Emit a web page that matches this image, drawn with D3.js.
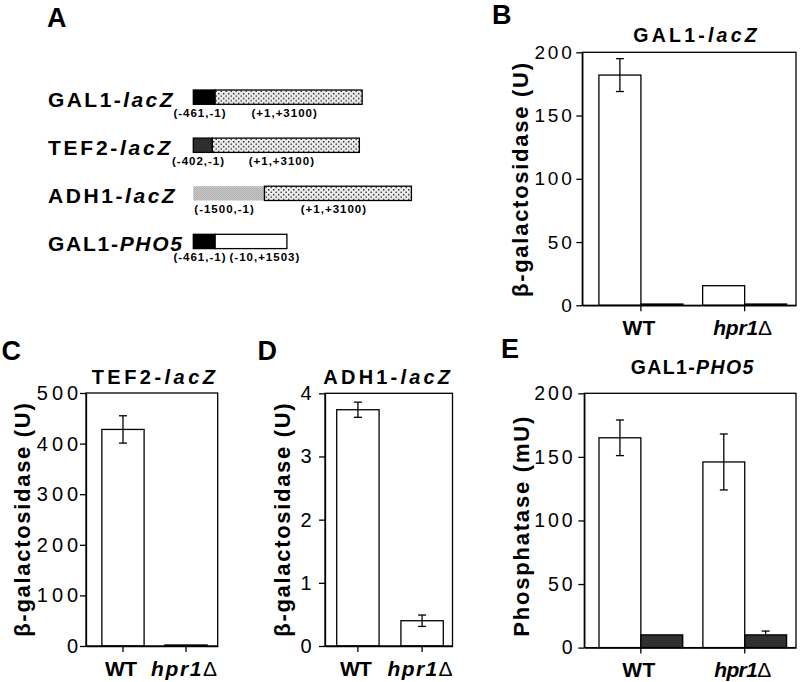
<!DOCTYPE html>
<html><head><meta charset="utf-8">
<script src="https://cdn.jsdelivr.net/npm/d3@7/dist/d3.min.js"></script>
<style>
body{margin:0;background:#fff}
svg{display:block}
text{font-family:"Liberation Sans", Arial, Helvetica, sans-serif;fill:#000}
</style>
</head><body>
<svg id="fig" width="800" height="682"></svg>
<script>
// ---------- Panel A: constructs ----------
const promoterNames = ["GAL1", "TEF2", "ADH1", "GAL1"];
const reporterNames = ["lacZ", "lacZ", "lacZ", "PHO5"];
const promoterBp = [461, 402, 1500, 461];
const reporterBp = [3100, 3100, 3100, 1513];
const promoterLabels = ["(-461,-1)", "(-402,-1)", "(-1500,-1)", "(-461,-1)"];
const reporterLabels = ["(+1,+3100)", "(+1,+3100)", "(+1,+3100)", "(-10,+1503)"];

// ---------- Panels B-E: bar data ----------
const strains = ["WT", "hpr1Δ"];

const galLacZ = [182, 15.5];          // B, white bars
const galLacZErr = [13, 0];
const galLacZRepressed = [1, 1];      // B, black bars

const tefLacZ = [428, 2];             // C
const tefLacZErr = [27, 0];

const adhLacZ = [3.74, 0.40];         // D
const adhLacZErr = [0.12, 0.09];

const galPho5 = [165, 146];           // E, white bars
const galPho5Err = [14, 22];
const galPho5Repressed = [10, 10];    // E, dark bars
const galPho5RepressedErr = [0, 3];

const ticksB = [0, 50, 100, 150, 200];
const ticksC = [0, 100, 200, 300, 400, 500];
const ticksD = [0, 1, 2, 3, 4];
const ticksE = [0, 50, 100, 150, 200];

const svg = d3.select("#fig");
svg.append("rect").attr("width", 800).attr("height", 682).attr("fill", "#fff");

// patterns
const defs = svg.append("defs");
const dots = defs.append("pattern").attr("id", "dots").attr("patternUnits", "userSpaceOnUse")
  .attr("width", 5).attr("height", 4.8);
dots.append("rect").attr("width", 5).attr("height", 4.8).attr("fill", "#ececec");
dots.append("circle").attr("cx", 1.2).attr("cy", 1.2).attr("r", 0.8).attr("fill", "#111");
dots.append("circle").attr("cx", 3.7).attr("cy", 3.6).attr("r", 0.8).attr("fill", "#111");
const grey = defs.append("pattern").attr("id", "grey").attr("patternUnits", "userSpaceOnUse")
  .attr("width", 2).attr("height", 2);
grey.append("rect").attr("width", 2).attr("height", 2).attr("fill", "#c9c9c9");
grey.append("rect").attr("width", 1).attr("height", 1).attr("fill", "#a9a9a9");
grey.append("rect").attr("x", 1).attr("y", 1).attr("width", 1).attr("height", 1).attr("fill", "#b5b5b5");
const dark = defs.append("pattern").attr("id", "dark").attr("patternUnits", "userSpaceOnUse")
  .attr("width", 2).attr("height", 2);
dark.append("rect").attr("width", 2).attr("height", 2).attr("fill", "#2a2a2a");
dark.append("rect").attr("width", 1).attr("height", 1).attr("fill", "#444");

function panelLetter(t, x, y) {
  svg.append("text").attr("x", x).attr("y", y).attr("font-size", 27).attr("font-weight", "bold").text(t);
}

// ---------- Panel A drawing ----------
(function drawA() {
  panelLetter("A", 47, 27);
  const promoterStyle = { GAL1: "#000", TEF2: "#2e2e2e", ADH1: "url(#grey)" };
  const reporterStyle = { lacZ: "url(#dots)", PHO5: "#fff" };
  const bp = d3.scaleLinear().domain([0, 3100]).range([0, 147]);
  const rowY = d3.scaleLinear().domain([0, promoterNames.length - 1]).range([90, 234.3]);
  const x0 = 193.3, boxH = 14.3;
  const labelLens = [124.5, 122.3, 126.7, 134];
  const rows = svg.append("g").selectAll("g").data(d3.range(promoterNames.length)).join("g")
    .attr("transform", i => `translate(0,${rowY(i)})`);
  rows.append("text").attr("x", 48).attr("y", boxH + 2.2).attr("font-size", 21).attr("font-weight", "bold")
    .attr("textLength", i => labelLens[i]).attr("lengthAdjust", "spacing")
    .each(function (i) {
      const t = d3.select(this);
      t.append("tspan").text(promoterNames[i] + "-");
      t.append("tspan").attr("font-style", "italic").text(reporterNames[i]);
    });
  rows.append("rect").attr("x", x0).attr("y", 0)
    .attr("width", i => bp(promoterBp[i])).attr("height", boxH)
    .attr("fill", i => promoterStyle[promoterNames[i]])
    .attr("stroke", i => promoterNames[i] === "ADH1" ? "none" : "#000").attr("stroke-width", 1.3);
  rows.append("rect").attr("x", i => x0 + bp(promoterBp[i])).attr("y", 0)
    .attr("width", i => bp(reporterBp[i])).attr("height", boxH)
    .attr("fill", i => reporterStyle[reporterNames[i]])
    .attr("stroke", "#000").attr("stroke-width", 1.3);
  rows.each(function (i) {
    const g = d3.select(this);
    const pc = x0 + bp(promoterBp[i]) / 2 - 4.3;
    const pt = g.append("text").attr("x", pc).attr("y", boxH + 12.6).attr("text-anchor", "middle")
      .attr("font-size", 11.5).attr("font-weight", "bold").attr("letter-spacing", 1).text(promoterLabels[i]);
    const pEnd = pt.node().getBBox().x + pt.node().getBBox().width;
    const rc = x0 + bp(promoterBp[i]) + bp(reporterBp[i]) / 2 - 4;
    const rt = g.append("text").attr("y", boxH + 12.6).attr("font-size", 11.5).attr("font-weight", "bold")
      .attr("letter-spacing", 1).text(reporterLabels[i]);
    const rw = rt.node().getBBox().width;
    rt.attr("x", Math.max(rc - rw / 2, pEnd + 3));
  });
})();

// ---------- Bar panels ----------
function drawPanel(c) {
  panelLetter(c.letter, c.letterX, c.letterY);
  const g = svg.append("g").attr("transform", `translate(${c.left},${c.top})`);
  const y = d3.scaleLinear().domain([0, d3.max(c.ticks)]).range([c.height, 0]);
  const x = d3.scaleBand().domain(strains).range([0, c.width])
    .paddingInner(c.pi).paddingOuter(c.po).align(c.align);
  const sub = d3.scaleBand().domain(d3.range(c.series.length)).range([0, x.bandwidth()]);

  c.series.forEach((s, si) => {
    g.append("g").selectAll("rect").data(s.values).join("rect")
      .attr("x", (d, i) => x(strains[i]) + sub(si))
      .attr("width", sub.bandwidth())
      .attr("y", d => y(d)).attr("height", d => c.height - y(d))
      .attr("fill", s.fill).attr("stroke", "#000").attr("stroke-width", 1.3);
  });
  c.series.forEach((s, si) => {
    if (!s.err) return;
    const eg = g.append("g").attr("stroke", "#000").attr("stroke-width", 1.3).attr("fill", "none");
    s.values.forEach((v, i) => {
      const e = s.err[i];
      if (!e) return;
      const cx = x(strains[i]) + sub(si) + sub.bandwidth() / 2;
      const lo = s.capTopOnly ? v : v - e;
      eg.append("line").attr("x1", cx).attr("x2", cx).attr("y1", y(v + e)).attr("y2", y(lo));
      eg.append("line").attr("x1", cx - 4).attr("x2", cx + 4).attr("y1", y(v + e)).attr("y2", y(v + e));
      if (!s.capTopOnly)
        eg.append("line").attr("x1", cx - 4).attr("x2", cx + 4).attr("y1", y(v - e)).attr("y2", y(v - e));
    });
  });

  // frame
  g.append("rect").attr("width", c.width).attr("height", c.height)
    .attr("fill", "none").attr("stroke", "#000").attr("stroke-width", 1.3);

  // y axis
  const ya = g.append("g").call(d3.axisLeft(y).tickValues(c.ticks).tickSize(6).tickSizeOuter(0)
    .tickPadding(c.tickPad).tickFormat(d3.format("d")));
  ya.select(".domain").attr("stroke-width", 1.3);
  ya.selectAll(".tick line").attr("stroke-width", 1.3);
  ya.selectAll(".tick text").attr("font-family", null).attr("font-size", c.tickFont)
    .attr("letter-spacing", c.tickLs).attr("dx", c.tickLs).attr("fill", "#000");

  // x axis
  const xa = g.append("g").attr("transform", `translate(0,${c.height})`)
    .call(d3.axisBottom(x).tickSize(6).tickSizeOuter(0).tickPadding(8));
  xa.select(".domain").attr("stroke-width", 1.3);
  xa.selectAll(".tick line").attr("stroke-width", 1.3);
  xa.selectAll(".tick text").attr("font-family", null).attr("font-size", 21).attr("font-weight", "bold")
    .attr("fill", "#000").attr("y", 29.5).attr("dy", null).attr("dx", -2)
    .attr("textLength", (d, i) => c.xlabLens[i]).attr("lengthAdjust", "spacing")
    .each(function (d) {
      const t = d3.select(this).text("");
      if (d.endsWith("Δ")) {
        t.append("tspan").attr("font-style", "italic").text(d.slice(0, -1));
        t.append("tspan").attr("font-weight", "normal").text("Δ");
      } else t.text(d);
    });

  // title
  const tt = svg.append("text").attr("x", c.titleX).attr("y", c.titleY).attr("text-anchor", "middle")
    .attr("font-size", c.titleSize).attr("font-weight", "bold")
    .attr("textLength", c.titleLen).attr("lengthAdjust", "spacing");
  tt.append("tspan").text(c.title[0]);
  tt.append("tspan").attr("font-style", "italic").text(c.title[1]);

  // y label
  svg.append("text").attr("transform", `translate(${c.ylabX},${c.ylabY}) rotate(-90)`)
    .attr("text-anchor", "middle").attr("font-size", c.ylabSize).attr("font-weight", "bold")
    .attr("textLength", c.ylabLen).attr("lengthAdjust", "spacing").text(c.ylabel);
}

drawPanel({
  letter: "B", letterX: 492, letterY: 24,
  left: 582.3, top: 52.3, width: 213.7, height: 253,
  ticks: ticksB, tickFont: 19, tickLs: 2.7, tickPad: 4.6,
  pi: 0.19, po: 0.125, align: 0.64,
  series: [{ values: galLacZ, err: galLacZErr, fill: "#fff" },
           { values: galLacZRepressed, err: null, fill: "#000" }],
  title: ["GAL1-", "lacZ"], titleSize: 19.5, titleLen: 123.3, titleX: 695, titleY: 42,
  ylabel: "β-galactosidase (U)", ylabX: 527.5, ylabY: 180, ylabLen: 234, ylabSize: 22,
  xlabLens: [33, 59]
});

drawPanel({
  letter: "C", letterX: 1.5, letterY: 360,
  left: 86, top: 393, width: 131.7, height: 253,
  ticks: ticksC, tickFont: 20, tickLs: 4, tickPad: 1.8,
  pi: 0.33, po: 0.21, align: 0.6,
  series: [{ values: tefLacZ, err: tefLacZErr, fill: "#fff" }],
  title: ["TEF2-", "lacZ"], titleSize: 20, titleLen: 123.3, titleX: 153.3, titleY: 384.3,
  ylabel: "β-galactosidase (U)", ylabX: 29.5, ylabY: 520, ylabLen: 233.5, ylabSize: 22,
  xlabLens: [32, 66]
});

drawPanel({
  letter: "D", letterX: 257.5, letterY: 360,
  left: 325, top: 393.3, width: 127.5, height: 252.7,
  ticks: ticksD, tickFont: 20, tickLs: 0, tickPad: 7.3,
  pi: 0.34, po: 0.163, align: 0.56,
  series: [{ values: adhLacZ, err: adhLacZErr, fill: "#fff" }],
  title: ["ADH1-", "lacZ"], titleSize: 20, titleLen: 126.7, titleX: 386.7, titleY: 384.3,
  ylabel: "β-galactosidase (U)", ylabX: 289.5, ylabY: 520, ylabLen: 233.3, ylabSize: 22,
  xlabLens: [32, 65]
});

drawPanel({
  letter: "E", letterX: 501, letterY: 358,
  left: 584.3, top: 393.3, width: 211.7, height: 254.3,
  ticks: ticksE, tickFont: 19.5, tickLs: 3, tickPad: 5.6,
  pi: 0.194, po: 0.116, align: 0.61,
  series: [{ values: galPho5, err: galPho5Err, fill: "#fff" },
           { values: galPho5Repressed, err: galPho5RepressedErr, fill: "url(#dark)", capTopOnly: true }],
  title: ["GAL1-", "PHO5"], titleSize: 19.5, titleLen: 122.6, titleX: 692, titleY: 374.3,
  ylabel: "Phosphatase (mU)", ylabX: 529, ylabY: 526.7, ylabLen: 220, ylabSize: 22,
  xlabLens: [33, 57]
});
</script>
</body></html>
